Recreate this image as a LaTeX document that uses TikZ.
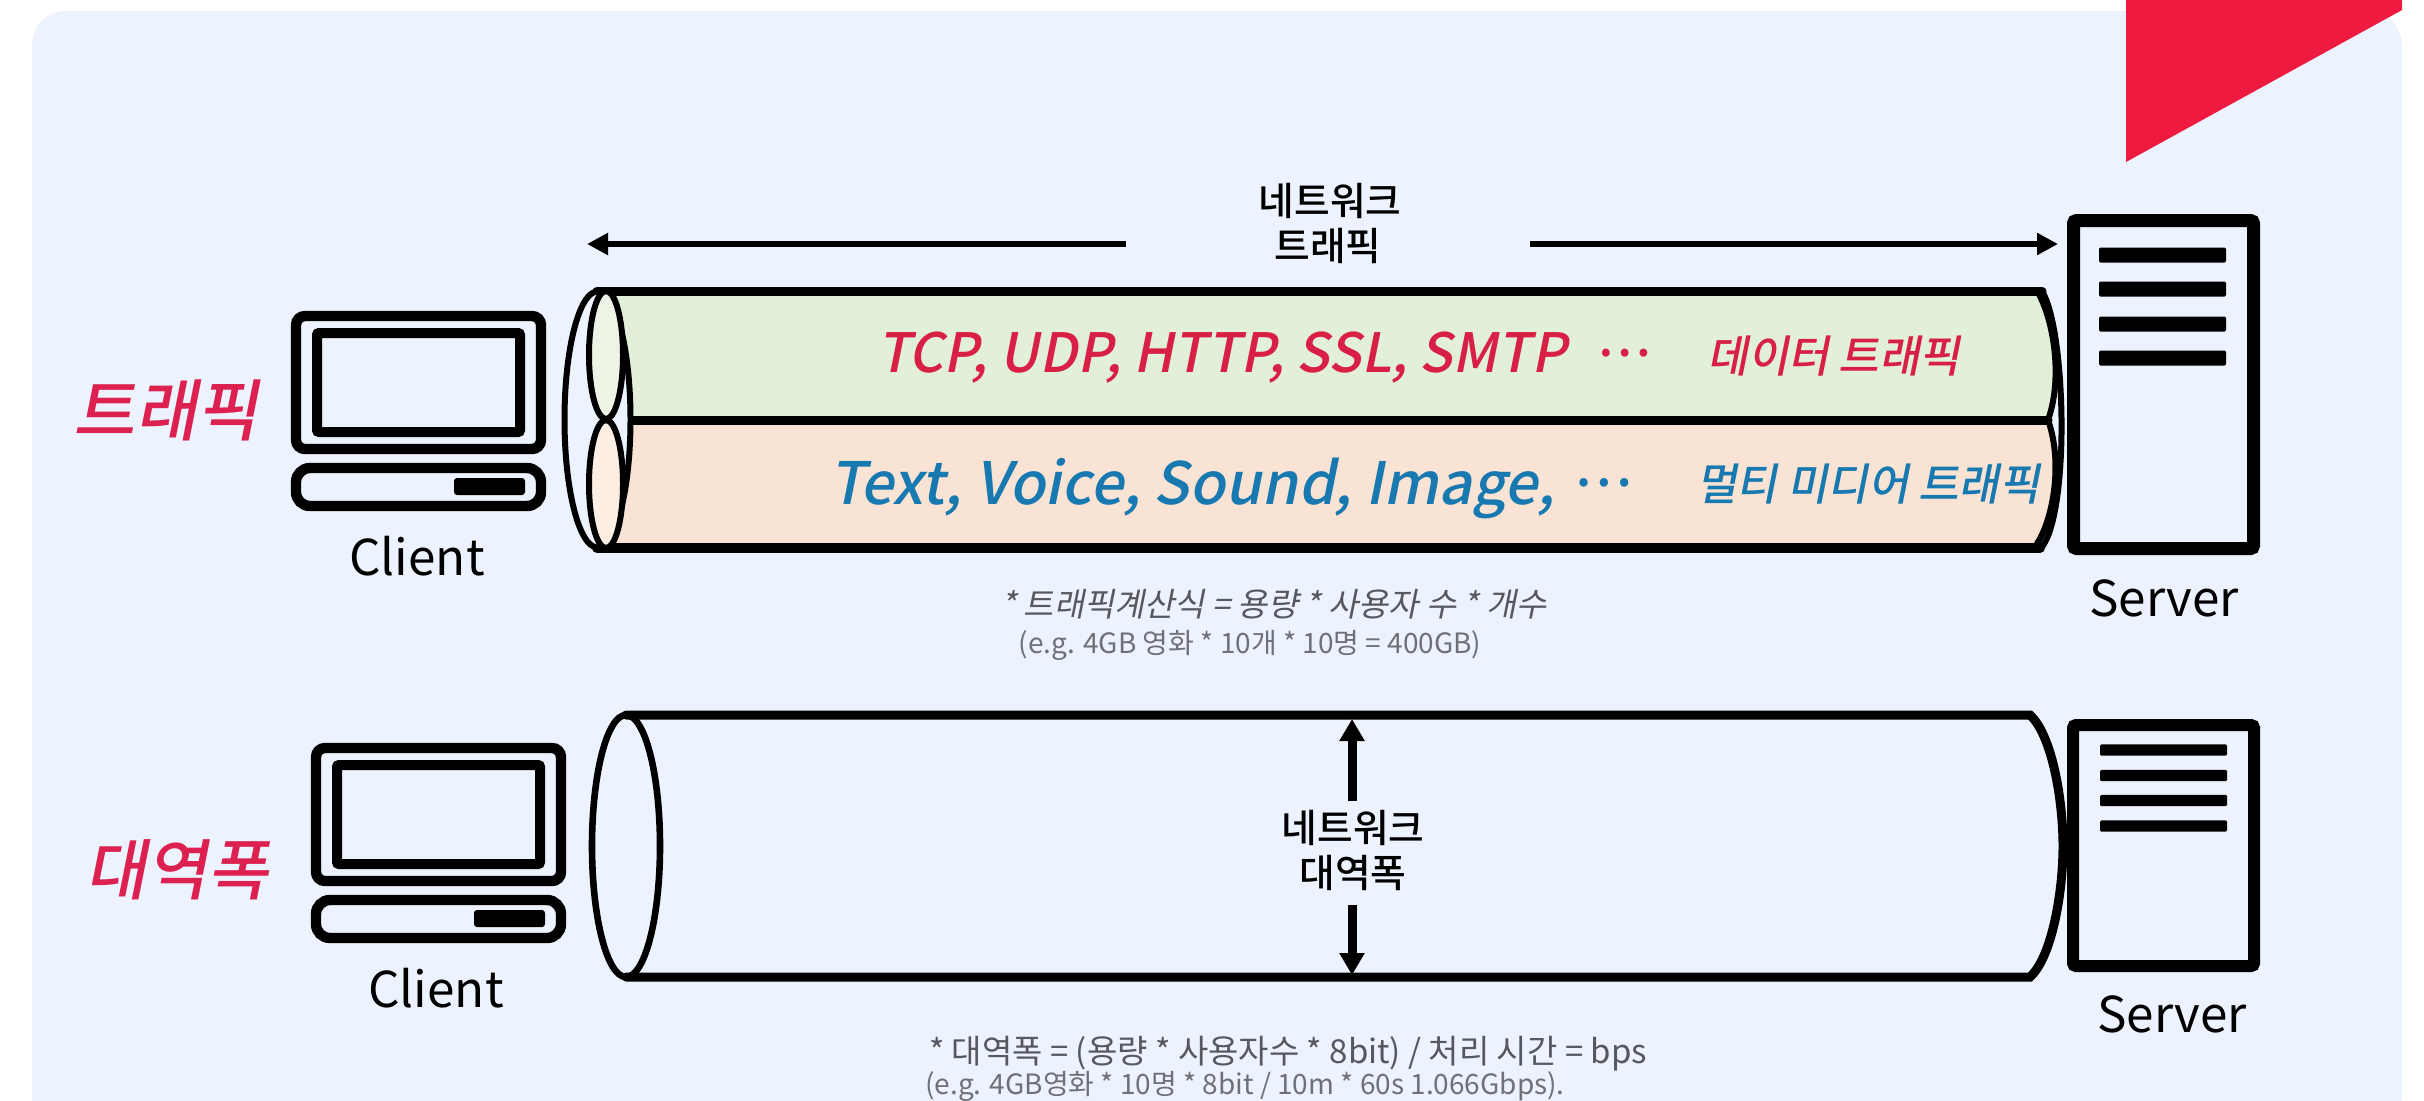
\documentclass[tikz,border=0pt]{standalone}
\usepackage{fontspec}
\usetikzlibrary{arrows.meta}
\setmainfont{Noto Sans CJK KR}
\newfontfamily\slantface[FakeSlant=0.2]{Noto Sans CJK KR Medium}
\newfontfamily\slantlight[FakeSlant=0.2]{Noto Sans CJK KR}
\newfontfamily\medface{Noto Sans CJK KR Medium}
\definecolor{panelblue}{HTML}{ECF2FE}
\definecolor{accentred}{HTML}{EE1A3F}
\definecolor{labelred}{HTML}{DC2050}
\definecolor{dataredtxt}{HTML}{D81F45}
\definecolor{mediablue}{HTML}{1878B0}
\definecolor{tubegreen}{HTML}{E2EFD9}
\definecolor{tubeorange}{HTML}{F9E3D4}
\definecolor{capgreen}{HTML}{EDF4E6}
\definecolor{caporange}{HTML}{FDEEE4}
\definecolor{notegrey}{HTML}{55585E}
\definecolor{subgrey}{HTML}{6E7177}
\newcommand{\fsz}[1]{\fontsize{#1}{#1}\selectfont}
\tikzset{
  txt/.style={inner sep=0pt, outer sep=0pt, anchor=center},
  frameb/.style={draw=black, line width=5.2pt, rounded corners=4.5pt},
  screenb/.style={draw=black, line width=5pt, rounded corners=1pt},
  servb/.style={draw=black, line width=6.5pt, rounded corners=1.5pt},
  barb/.style={fill=black, rounded corners=.7pt},
  tube/.style={draw=black, line width=4.5pt, line cap=round},
  tubethin/.style={draw=black, line width=3pt},
  harrow/.style={draw=black, line width=3pt, -{Triangle[length=10.5pt,width=10.5pt]}},
  varrow/.style={draw=black, line width=4.5pt, -{Triangle[length=11pt,width=12pt]}},
  equip/.style={txt, font=\fsz{24.7}},
}
\newcommand{\clientpc}[2]{%
  \begin{scope}[shift={(#1,#2)}]
    \path[frameb] (5,5) rectangle (250,138);
    \path[screenb] (26,22) rectangle (229,121);
    \path[frameb, rounded corners=7pt] (5,157) rectangle (250,195);
    \path[barb, rounded corners=1.5pt] (163,167) rectangle (234,184);
  \end{scope}}
\begin{document}
\begin{tikzpicture}[x=0.5pt,y=-0.5pt]
\useasboundingbox (0,0) rectangle (2424,1100);
\fill[white] (0,0) rectangle (2424,1100);
\fill[panelblue, rounded corners=17pt] (32,11) rectangle (2402,1160);
\fill[accentred] (2126,0) -- (2402,0) -- (2402,10) -- (2126,162) -- cycle;

% ---- traffic row: tube ----
\fill[tubegreen] (597,291) -- (2037,291) .. controls (2052,315) and (2064,375) .. (2048,420) -- (597,420) -- cycle;
\fill[tubeorange] (597,420) -- (2048,420) .. controls (2064,465) and (2052,525) .. (2034,548) -- (597,548) -- cycle;
\path[tubethin] (2042,291) .. controls (2066,330) and (2070,510) .. (2042,547);
\path[tube, line width=3pt] (2037,291) .. controls (2052,315) and (2064,375) .. (2048,420);
\path[tube, line width=3pt] (2048,420) .. controls (2064,465) and (2052,525) .. (2034,548);
\path[tube] (597,291) -- (2042,291);
\path[tube] (597,420) -- (2048,420);
\path[tube, line width=5pt] (597,548) -- (2040,548);
\path[tubethin, fill=panelblue] (597.5,419.5) ellipse [x radius=33, y radius=128];
\path[tubethin, fill=capgreen] (606,355) ellipse [x radius=17, y radius=64];
\path[tubethin, fill=caporange] (606,484) ellipse [x radius=17, y radius=64];

% ---- traffic row: equipment ----
\clientpc{291}{311}
\node[equip] (client1) at (417,556) {Client};
\path[servb] (2073.5,220.5) rectangle (2253.5,548.5);
\foreach \yy in {255,289,324,358} \path[barb] (2099,\yy-7.5) rectangle (2226,\yy+7.5);
\node[equip] (server1) at (2164,598) {Server};

% ---- traffic row: labels ----
\node[txt, font=\slantface\fsz{33.5}, text=labelred] (labeltraffic) at (166,410) {트래픽};
\node[txt, font=\medface\fsz{19.4}] (nettop1) at (1330,201) {네트워크};
\node[txt, font=\medface\fsz{19.4}] (nettop2) at (1328,246) {트래픽};
\coordinate (leftfrom) at (1126,244);
\coordinate (leftto) at (587,244);
\coordinate (rightfrom) at (1530,244);
\coordinate (rightto) at (2058,244);
\draw[harrow] (leftfrom) -- (leftto);
\draw[harrow] (rightfrom) -- (rightto);
\node[txt, font=\slantface\fsz{27.1}, text=dataredtxt, anchor=west] (protocols) at (877,358) {TCP, UDP, HTTP, SSL, SMTP};
\node[txt, font=\medface\fsz{25}, text=dataredtxt] (dots1) at (1624,353) {⋯};
\node[txt, font=\slantface\fsz{22}, text=dataredtxt] (datatraffic) at (1834,356) {데이터 트래픽};
\node[txt, font=\slantface\fsz{29.2}, text=mediablue, anchor=west] (media) at (829,488) {Text, Voice, Sound, Image,};
\node[txt, font=\medface\fsz{27}, text=mediablue] (dots2) at (1604,483) {⋯};
\node[txt, font=\slantface\fsz{22}, text=mediablue] (mediatraffic) at (1868,484) {멀티 미디어 트래픽};
\node[txt, font=\slantlight\fsz{16.4}, text=notegrey] (note1) at (1274,604) {* 트래픽계산식 = 용량 * 사용자 수 * 개수};
\node[txt, font=\fsz{14}, text=subgrey] (note1b) at (1250,645) {(e.g. 4GB 영화 * 10개 * 10명 = 400GB)};

% ---- bandwidth row ----
\path[tube] (626,715) -- (2030,715) .. controls (2052,735) and (2063,800) .. (2063,846) .. controls (2063,892) and (2052,957) .. (2030,977) -- (626,977);
\path[tubethin, line width=3.3pt] (626,846) ellipse [x radius=34, y radius=131];
\clientpc{311}{743}
\node[equip] (client2) at (436,988) {Client};
\path[servb, line width=6pt] (2073,725) rectangle (2254,966);
\foreach \yy in {750,775.5,800.5,826} \path[barb] (2100,\yy-5.7) rectangle (2227,\yy+5.7);
\node[equip] (server2) at (2172,1014) {Server};
\node[txt, font=\slantface\fsz{33}, text=labelred] (labelband) at (177,870) {대역폭};
\node[txt, font=\medface\fsz{19.4}] (netmid1) at (1353,828) {네트워크};
\node[txt, font=\medface\fsz{19.4}] (netmid2) at (1353,873) {대역폭};
\coordinate (upfrom) at (1352,801);
\coordinate (upto) at (1352,719);
\coordinate (downfrom) at (1352,905);
\coordinate (downto) at (1352,975);
\draw[varrow] (upfrom) -- (upto);
\draw[varrow] (downfrom) -- (downto);
\node[txt, font=\fsz{16.5}, text=notegrey] (note2) at (1288,1054) {* 대역폭 = (용량 * 사용자수 * 8bit) / 처리 시간 = bps};
\node[txt, font=\fsz{14}, text=subgrey] (note2b) at (1245,1086) {(e.g. 4GB영화 * 10명 * 8bit / 10m * 60s 1.066Gbps).};
\end{tikzpicture}
\end{document}
